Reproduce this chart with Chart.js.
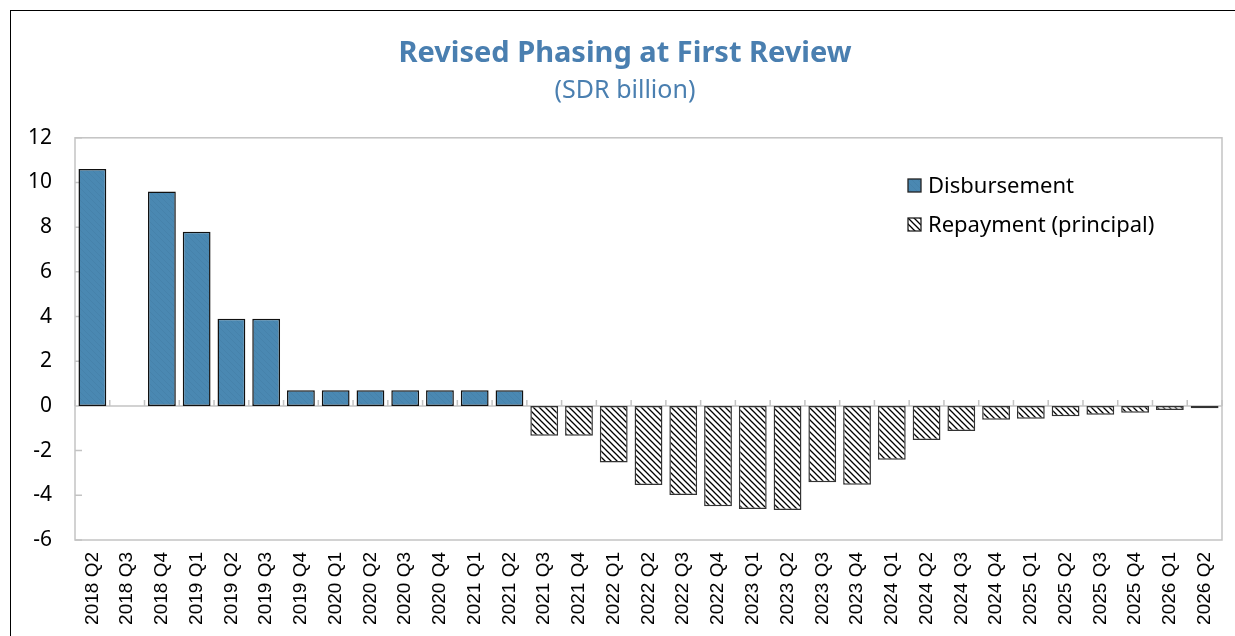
<!DOCTYPE html>
<html>
<head>
<meta charset="utf-8">
<script src="https://cdn.jsdelivr.net/npm/chart.js@4"></script>
<style>
  html, body { margin: 0; padding: 0; background: #fff; overflow: hidden; }
  #wrap { position: relative; width: 1235px; height: 636px; }
  #frame { position: absolute; left: 10px; top: 10px; width: 1300px; height: 700px;
           border-top: 1.5px solid #000; border-left: 1.5px solid #000; pointer-events: none; }
  canvas { position: absolute; left: 0; top: 0; }
</style>
</head>
<body>
<div id="wrap">
  <canvas id="myChart" width="1235" height="636"></canvas>
  <div id="frame"></div>
</div>
<script>
/*====== data =======*/
const categories = [
  '2018 Q2', '2018 Q3', '2018 Q4',
  '2019 Q1', '2019 Q2', '2019 Q3', '2019 Q4',
  '2020 Q1', '2020 Q2', '2020 Q3', '2020 Q4',
  '2021 Q1', '2021 Q2', '2021 Q3', '2021 Q4',
  '2022 Q1', '2022 Q2', '2022 Q3', '2022 Q4',
  '2023 Q1', '2023 Q2', '2023 Q3', '2023 Q4',
  '2024 Q1', '2024 Q2', '2024 Q3', '2024 Q4',
  '2025 Q1', '2025 Q2', '2025 Q3', '2025 Q4',
  '2026 Q1', '2026 Q2',
];

const disbursement = [
  10.6, null, 9.6, 7.8, 3.9, 3.9, 0.7,
  0.7, 0.7, 0.7, 0.7, 0.7, 0.7,
  null, null, null, null, null, null, null, null, null, null,
  null, null, null, null, null, null, null, null, null, null,
];

const repayment = [
  null, null, null, null, null, null, null, null, null, null, null, null, null,
  -1.34, -1.34, -2.53, -3.54, -3.99, -4.49, -4.61, -4.66, -3.42, -3.53,
  -2.41, -1.52, -1.12, -0.62, -0.57, -0.46, -0.40, -0.30, -0.18, -0.10,
];

const yTicks = { min: -6, max: 12, step: 2 };

/*====== patterns =======*/
function makePattern(bg, fg, size, lw) {
  const c = document.createElement('canvas');
  c.width = size; c.height = size;
  const g = c.getContext('2d');
  g.fillStyle = bg;
  g.fillRect(0, 0, size, size);
  g.strokeStyle = fg;
  g.lineWidth = lw;
  g.beginPath();
  g.moveTo(0, 0); g.lineTo(size, size);
  g.moveTo(-2, size - 2); g.lineTo(2, size + 2);
  g.moveTo(size - 2, -2); g.lineTo(size + 2, 2);
  g.stroke();
  return g.createPattern(c, 'repeat');
}
const blueFill = makePattern('#4a88b2', '#4682ab', 6, 1);
const hatchFill = makePattern('#ffffff', '#000000', 6, 1.3);

/*====== plugins =======*/
const gray = '#c3c3c3';

const frameLines = {
  id: 'frameLines',
  beforeDatasetsDraw(chart) {
    const { ctx, chartArea: a, scales } = chart;
    const y0 = scales.y.getPixelForValue(0);
    const n = categories.length;
    const w = (a.right - a.left) / n;
    ctx.save();
    ctx.strokeStyle = gray;
    ctx.lineWidth = 1.5;
    ctx.strokeRect(a.left, a.top, a.right - a.left, a.bottom - a.top);
    ctx.beginPath();
    ctx.moveTo(a.left, y0); ctx.lineTo(a.right, y0);
    for (let i = 0; i <= n; i++) {
      const x = a.left + i * w;
      ctx.moveTo(x, y0 - 6); ctx.lineTo(x, y0);
    }
    for (let v = yTicks.min; v <= yTicks.max; v += yTicks.step) {
      const y = scales.y.getPixelForValue(v);
      ctx.moveTo(a.left, y); ctx.lineTo(a.left + 7, y);
    }
    ctx.stroke();
    ctx.restore();
  },
  afterDraw(chart) {
    const { ctx } = chart;
    const x = 908, ys = [186, 225];
    ctx.save();
    ctx.font = '22px "Noto Sans"';
    ctx.textBaseline = 'middle';
    chart.data.datasets.forEach((ds, i) => {
      ctx.fillStyle = ds.backgroundColor;
      ctx.fillRect(x, ys[i] - 7, 13, 13);
      ctx.strokeStyle = '#222';
      ctx.lineWidth = 1.3;
      ctx.strokeRect(x, ys[i] - 7, 13, 13);
      ctx.fillStyle = '#000';
      ctx.fillText(ds.label, x + 20, ys[i] + 1);
    });
    ctx.restore();
  }
};

/*====== chart =======*/
const data = {
  labels: categories,
  datasets: [{
    label: 'Disbursement',
    data: disbursement,
    backgroundColor: blueFill,
    borderColor: '#111111',
    borderWidth: 1.5,
    borderSkipped: false,
  }, {
    label: 'Repayment (principal)',
    data: repayment,
    backgroundColor: hatchFill,
    borderColor: '#333333',
    borderWidth: 1.5,
    borderSkipped: false,
  }]
};

const config = {
  type: 'bar',
  data: data,
  options: {
    responsive: false,
    animation: false,
    devicePixelRatio: 1,
    barPercentage: 0.8,
    categoryPercentage: 1,
    layout: { padding: { left: 28, right: 13, top: 0, bottom: 0 } },
    plugins: {
      legend: { display: false },
      tooltip: { enabled: false },
      title: {
        display: true,
        text: 'Revised Phasing at First Review',
        color: '#4a7fb0',
        font: { family: '"Noto Sans"', size: 29, weight: 'bold' },
        padding: { top: 36, bottom: 5 }
      },
      subtitle: {
        display: true,
        text: '(SDR billion)',
        color: '#4a7fb0',
        font: { family: '"Noto Sans"', size: 25 },
        padding: { top: 0, bottom: 32 }
      }
    },
    scales: {
      x: {
        stacked: true,
        grid: { display: false, drawTicks: false },
        border: { display: false },
        ticks: {
          color: '#000',
          font: { family: '"Liberation Sans"', size: 19 },
          maxRotation: 90, minRotation: 90,
          autoSkip: false,
          padding: 12
        },
        afterFit(scale) {
          scale.height = 96;
          scale.paddingLeft = 0;
          scale.paddingRight = 0;
        }
      },
      y: {
        stacked: true,
        min: yTicks.min,
        max: yTicks.max,
        grid: { display: false, drawTicks: false },
        border: { display: false },
        ticks: {
          stepSize: yTicks.step,
          color: '#000',
          font: { family: '"Noto Sans"', size: 21 },
          padding: 23
        },
        afterFit(scale) { scale.width = 47; }
      }
    }
  },
  plugins: [frameLines]
};

const myChart = new Chart(document.getElementById('myChart'), config);
</script>
</body>
</html>
